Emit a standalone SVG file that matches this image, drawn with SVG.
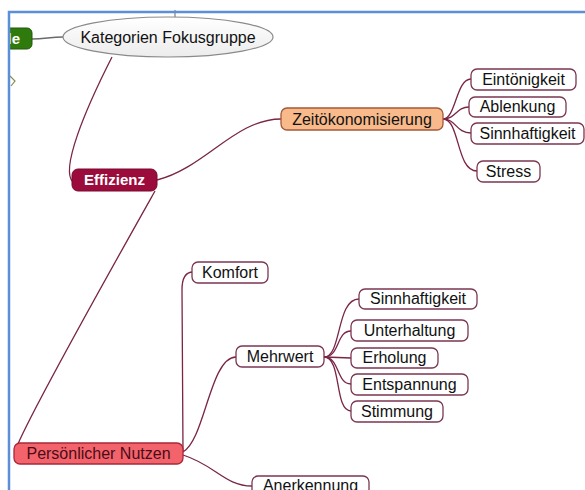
<svg xmlns="http://www.w3.org/2000/svg" width="585" height="490" viewBox="0 0 585 490">
<defs>
<linearGradient id="ell" x1="0" y1="0" x2="0" y2="1"><stop offset="0" stop-color="#ffffff"/><stop offset="1" stop-color="#ececec"/></linearGradient>
<clipPath id="inner"><rect x="9" y="12" width="576" height="478"/></clipPath>
</defs>
<style>
text{font-family:"Liberation Sans",Arial,sans-serif;font-size:16px;fill:#111;text-anchor:middle}
.leaf rect{fill:#fff;stroke:#7b3652;stroke-width:1.3}
.conn path{fill:none;stroke:#7a2446;stroke-width:1.3}
</style>
<rect width="585" height="490" fill="#fff"/>
<g class="conn">
<path d="M32,39 C45,39 50,37 63,37" style="stroke:#6a6a6a"/>
<path d="M175,10 V17" style="stroke:#888"/>
<path d="M112,57 C85,110 60,170 73,182"/>
<path d="M157,180 C205,168 235,119 281,119"/>
<path d="M155,191 C150,200 20,430 15,452"/>
<path d="M443,119 C456,119 456,79 471,79"/>
<path d="M443,119 C456,119 456,107 469,107"/>
<path d="M443,119 C456,119 456,133 471,133"/>
<path d="M443,119 C460,119 456,171 477,171"/>
<path d="M183,452 L182,290 Q182,272 193,272"/>
<path d="M183,452 C205,440 210,357 236,357"/>
<path d="M183,455 C215,465 225,486 252,486"/>
<path d="M324,357 C342,357 336,299 359,299"/>
<path d="M324,357 C340,357 336,331 351,331"/>
<path d="M324,357 C338,357 338,358 351,358"/>
<path d="M324,357 C340,357 336,384 351,384"/>
<path d="M324,357 C342,357 334,411 351,411"/>
</g>
<g id="n-green" clip-path="url(#inner)"><rect x="-20" y="28" width="52" height="21" rx="5" fill="#2f7a0c" stroke="#1f5a06"/><text x="20" y="44" style="fill:#fff;font-weight:bold;font-size:15px;text-anchor:end">le</text></g>
<g id="n-mark"><path d="M10,76 L15,81 L11,86" fill="none" stroke="#8a8a50" stroke-width="1.2"/></g>
<g id="n-root"><ellipse cx="168" cy="37" rx="105" ry="20" fill="url(#ell)" stroke="#8a8a8a" stroke-width="1.2"/><text x="168" y="43">Kategorien Fokusgruppe</text></g>
<g id="n-effizienz"><rect x="72" y="169" width="85" height="22" rx="6" fill="#9b0b3b" stroke="#7a0a2e"/><text x="114.5" y="185" style="fill:#fff;font-weight:bold;font-size:15px">Effizienz</text></g>
<g id="n-zeit"><rect x="281" y="108" width="162" height="22" rx="6" fill="#f8b98b" stroke="#a4583a" stroke-width="1.3"/><text x="362" y="125">Zeitökonomisierung</text></g>
<g id="n-eint" class="leaf"><rect x="471" y="69" width="105" height="21" rx="6"/><text x="523.5" y="85">Eintönigkeit</text></g>
<g id="n-ablenk" class="leaf"><rect x="469" y="97" width="97" height="20" rx="6"/><text x="517.5" y="112">Ablenkung</text></g>
<g id="n-sinn1" class="leaf"><rect x="471" y="123" width="113" height="21" rx="6"/><text x="527.5" y="139">Sinnhaftigkeit</text></g>
<g id="n-stress" class="leaf"><rect x="477" y="161" width="63" height="21" rx="6"/><text x="508.5" y="177">Stress</text></g>
<g id="n-persoenlich"><rect x="14" y="443" width="169" height="21" rx="6" fill="#f3636b" stroke="#a8283a" stroke-width="1.3"/><text x="98.5" y="459" style="fill:#4a0c18">Persönlicher Nutzen</text></g>
<g id="n-komfort" class="leaf"><rect x="192" y="262" width="76" height="21" rx="6"/><text x="230" y="278">Komfort</text></g>
<g id="n-mehrwert" class="leaf"><rect x="236" y="346" width="88" height="21" rx="6"/><text x="280" y="362">Mehrwert</text></g>
<g id="n-anerkennung" class="leaf"><rect x="252" y="476" width="117" height="25" rx="6"/><text x="310.5" y="491">Anerkennung</text></g>
<g id="n-sinn2" class="leaf"><rect x="359" y="289" width="118" height="20" rx="6"/><text x="418" y="304">Sinnhaftigkeit</text></g>
<g id="n-unter" class="leaf"><rect x="351" y="320" width="117" height="21" rx="6"/><text x="409.5" y="336">Unterhaltung</text></g>
<g id="n-erhol" class="leaf"><rect x="351" y="348" width="87" height="20" rx="6"/><text x="394.5" y="363">Erholung</text></g>
<g id="n-entsp" class="leaf"><rect x="351" y="374" width="117" height="21" rx="6"/><text x="409.5" y="390">Entspannung</text></g>
<g id="n-stimm" class="leaf"><rect x="351" y="401" width="92" height="21" rx="6"/><text x="397" y="417">Stimmung</text></g>
<g id="frame" fill="none" stroke="#5b8fd8" stroke-width="2.5"><path d="M9,490 V12 H585"/></g>
</svg>
